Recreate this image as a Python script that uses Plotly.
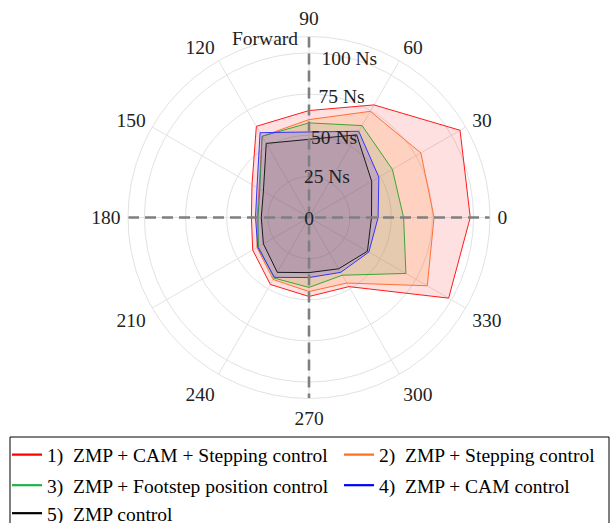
import plotly.graph_objects as go

# Push direction in degrees (0 = right, 90 = forward)
angles = [0, 30, 60, 90, 120, 150, 180, 210, 240, 270, 300, 330]

# Maximum recoverable impulse per direction [Ns]
zmp_cam_stepping = [98, 106, 79, 65, 64, 40, 35, 39.5, 47, 48, 48.5, 98]
zmp_stepping = [76, 78.5, 74.5, 59.5, 57, 35, 31.5, 36.5, 43.5, 45, 46, 83]
zmp_footstep = [57.5, 58.5, 64.5, 57.5, 57, 34.5, 31, 35.5, 42.5, 42.5, 40.5, 68]
zmp_cam = [42, 49, 60.5, 52, 59.5, 36.5, 32.5, 36, 42, 36.5, 38.5, 42]
zmp_only = [38, 44, 58, 47.5, 52, 32, 29, 32, 38.5, 33.5, 36, 41]

series_names = [
    "1)\u00a0 ZMP + CAM + Stepping control",
    "2)\u00a0 ZMP + Stepping control",
    "3)\u00a0 ZMP + Footstep position control",
    "4)\u00a0 ZMP + CAM control",
    "5)\u00a0 ZMP control",
]
series_values = [zmp_cam_stepping, zmp_stepping, zmp_footstep, zmp_cam, zmp_only]

radial_ticks = [25, 50, 75, 100]
radial_tick_text = ["25 Ns", "50 Ns", "75 Ns", "100 Ns"]
angle_ticks = list(range(0, 360, 30))
angle_tick_text = [str(a) for a in angle_ticks]
r_max = 110

line_colors = ["#ff1a1a", "#ff7033", "#3aa635", "#3333ff", "#1a1a1a"]
legend_colors = ["#ff0000", "#ff7020", "#1db34a", "#0000ff", "#000000"]
fill_colors = [
    "rgba(255,0,0,0.12)",
    "rgba(255,127,14,0.15)",
    "rgba(90,170,80,0.15)",
    "rgba(20,0,255,0.15)",
    "rgba(20,0,10,0.08)",
]

SERIF = "Liberation Serif"
TXT = "#222222"
GRID = "#e2e2e2"
AXIS_GRAY = "#7f7f7f"

W, H = 610, 523
cx, cy, rad = 309, 217.5, 181

# Radial tick label placement (just inside each ring, left-aligned)
label_r = [24.4, 47.6, 72.8, 96.2]
label_theta = [97.3, 88.5, 85.4, 85.5]

# Legend grid: two columns, three rows (pixel positions of each entry)
legend_ids = ["legend", "legend2", "legend3", "legend4", "legend5"]
legend_cols = [7, 339, 7, 339, 7]
legend_rows = [455, 455, 485.5, 485.5, 513.5]

fig = go.Figure()

# Filled regions, largest first
for vals, lc, fc in zip(series_values, line_colors, fill_colors):
    fig.add_trace(go.Scatterpolar(
        r=vals + vals[:1], theta=angles + angles[:1],
        mode="lines", fill="toself", fillcolor=fc,
        line=dict(color=lc, width=1), showlegend=False, hoverinfo="skip",
    ))

# Dashed reference axes through the origin
for a0, a1 in [(180, 0), (90, 270)]:
    fig.add_trace(go.Scatterpolar(
        r=[r_max, 0, r_max], theta=[a0, a0, a1], mode="lines",
        line=dict(color=AXIS_GRAY, width=2.6, dash="11px,6px"),
        showlegend=False, hoverinfo="skip",
    ))
fig.add_trace(go.Scatterpolar(
    r=[r_max + 0.8] * 4, theta=[0, 90, 180, 270], mode="markers",
    marker=dict(symbol=["arrow-right", "arrow-up", "arrow-left", "arrow-down"],
                size=11, color=AXIS_GRAY, line=dict(width=0)),
    showlegend=False, hoverinfo="skip",
))

# Radial tick labels
fig.add_trace(go.Scatterpolar(
    r=label_r, theta=label_theta, mode="text", text=radial_tick_text,
    textposition="middle right", cliponaxis=False,
    textfont=dict(family=SERIF, size=19.5, color=TXT),
    showlegend=False, hoverinfo="skip",
))
fig.add_trace(go.Scatterpolar(
    r=[1.4], theta=[270], mode="text", text=["0"], textposition="middle center",
    textfont=dict(family=SERIF, size=19.5, color=TXT),
    showlegend=False, hoverinfo="skip",
))

# Legend entries (line samples)
for name, col, lg in zip(series_names, legend_colors, legend_ids):
    fig.add_trace(go.Scatterpolar(
        r=[None], theta=[None], mode="lines", name=name,
        line=dict(color=col, width=2.2), legend=lg, showlegend=True,
    ))

legend_layout = {}
for lg, lx, ly in zip(legend_ids, legend_cols, legend_rows):
    legend_layout[lg] = dict(
        orientation="h", x=lx / W, xanchor="left", y=1 - ly / H, yanchor="middle",
        font=dict(family=SERIF, size=19.5, color="#000000"),
        bgcolor="rgba(0,0,0,0)", borderwidth=0, itemwidth=30,
    )

fig.update_layout(
    width=W, height=H,
    margin=dict(l=0, r=0, t=0, b=0, autoexpand=False),
    paper_bgcolor="white",
    polar=dict(
        domain=dict(x=[(cx - rad) / W, (cx + rad) / W],
                    y=[1 - (cy + rad) / H, 1 - (cy - rad) / H]),
        bgcolor="white",
        radialaxis=dict(range=[0, r_max], tickvals=radial_ticks,
                        showticklabels=False, ticks="", showline=False,
                        gridcolor=GRID, gridwidth=1),
        angularaxis=dict(rotation=0, direction="counterclockwise",
                         tickvals=angle_ticks, ticktext=angle_tick_text,
                         ticks="outside", ticklen=3, tickcolor="rgba(0,0,0,0)",
                         tickfont=dict(family=SERIF, size=19.5, color=TXT),
                         showgrid=True, gridcolor=GRID, gridwidth=1,
                         showline=True, linecolor=GRID, linewidth=1),
    ),
    annotations=[dict(text="Forward", x=264.5 / W, y=1 - 38 / H,
                      xref="paper", yref="paper", showarrow=False,
                      xanchor="center", yanchor="middle",
                      font=dict(family=SERIF, size=19.5, color=TXT))],
    shapes=[dict(type="rect", xref="paper", yref="paper",
                 x0=10 / W, x1=609 / W, y0=-0.05, y1=1 - 437 / H,
                 line=dict(color="#000000", width=1), fillcolor="rgba(0,0,0,0)")],
    showlegend=True,
    **legend_layout,
)

fig.write_html("out.html")
